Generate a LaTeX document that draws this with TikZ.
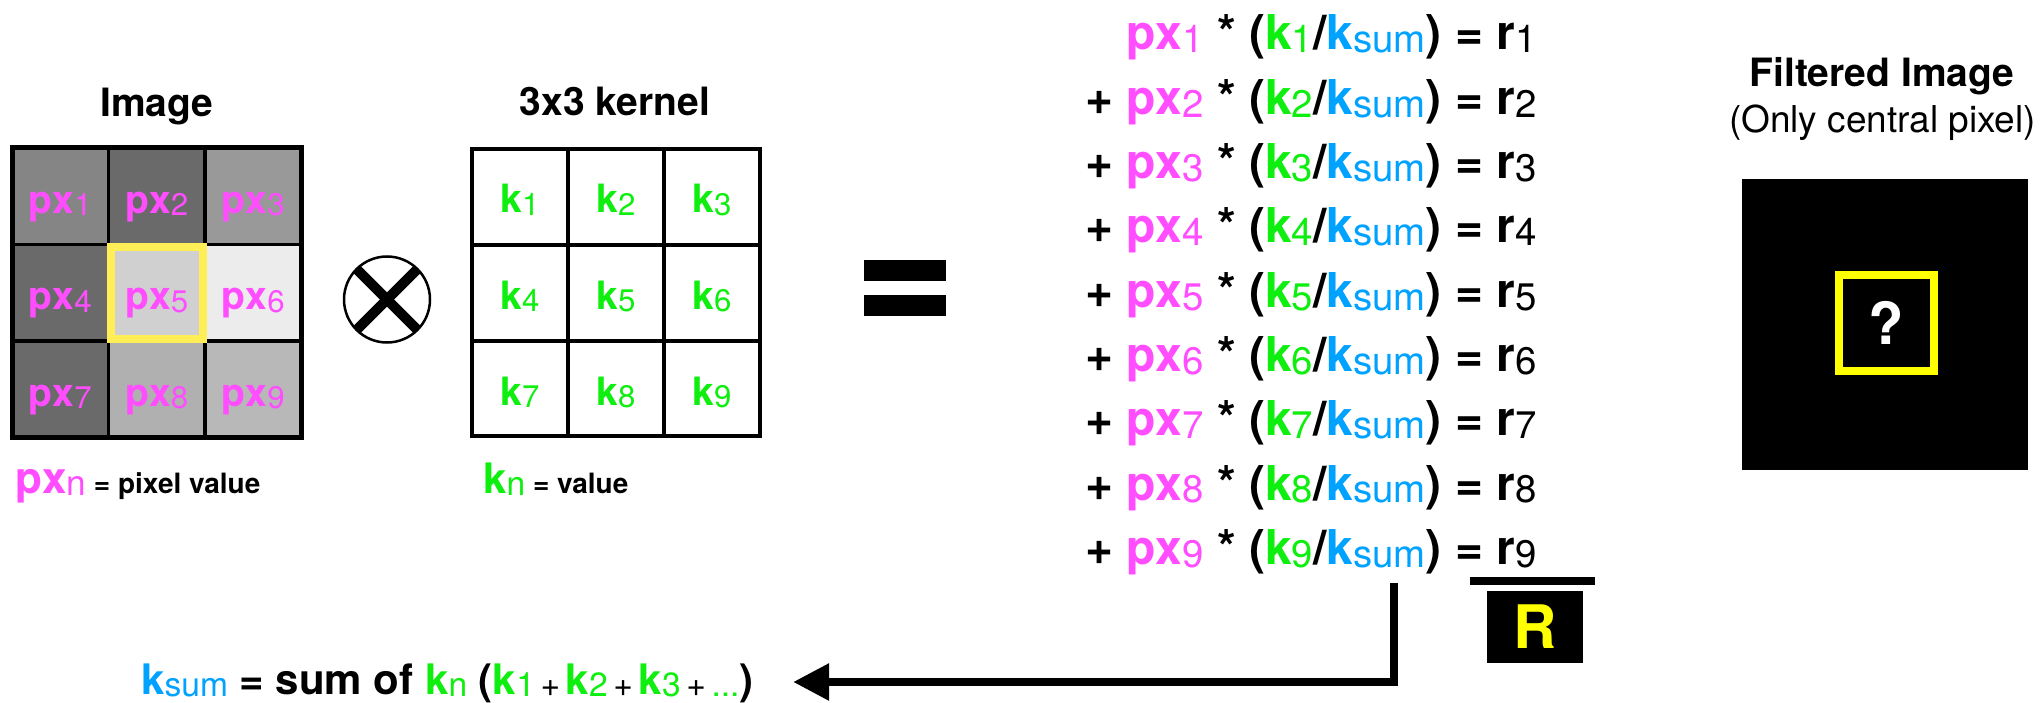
\documentclass[tikz,border=0pt]{standalone}
\usepackage{fontspec}
\setmainfont{TeX Gyre Heros}
\usepackage{xcolor}
\usepackage{graphicx}
\usepackage{tikz}
\usetikzlibrary{arrows.meta, positioning}

\definecolor{pxpink}{HTML}{FF4DFF}
\definecolor{kgreen}{HTML}{0FEF0F}
\definecolor{ksblue}{HTML}{00A2FF}
\definecolor{hlyellow}{HTML}{FFEE55}
\definecolor{ryellow}{HTML}{FFFF00}

\newcommand{\setfs}[1]{\fontsize{#1pt}{#1pt}\selectfont}
\newcommand{\lowsub}[1]{\raisebox{-0.06em}{\scalebox{0.8}{\mdseries #1}}}
\newcommand{\pxv}[1]{\textcolor{pxpink}{px\lowsub{#1}}}
\newcommand{\kv}[1]{\textcolor{kgreen}{k\lowsub{#1}}}
\newcommand{\ksum}{\textcolor{ksblue}{k\lowsub{sum}}}

\begin{document}
\begin{tikzpicture}[
  x=1pt, y=-1pt,
  lbl/.style={inner sep=0pt, anchor=base},
  title/.style={lbl, font=\setfs{39}\bfseries},
  cell/.style={lbl, font=\setfs{39}\bfseries},
  legend/.style={inner sep=0pt, anchor=base west, font=\bfseries},
  eqline/.style={inner sep=0pt, anchor=base west, font=\setfs{48}\bfseries},
  gridline/.style={line width=3.5pt},
  arr/.style={-{Triangle[length=36pt, width=35pt]}, line width=8.5pt, line join=miter}
]
\useasboundingbox (0,0) rectangle (2042,703);
\fill[white] (0,0) rectangle (2042,703);

% ---- Image (left) ----
\node[title] (imgtitle) at (157,117) {Image};
\foreach \n/\g in {1/133,2/106,3/153,4/106,5/208,6/236,7/106,8/176,9/184}{
  \pgfmathtruncatemacro{\cx}{mod(\n-1,3)}
  \pgfmathtruncatemacro{\ry}{(\n-1)/3}
  \definecolor{cellfill}{RGB}{\g,\g,\g}
  \fill[cellfill] (12+96.5*\cx,148+96.5*\ry) rectangle ++(96.5,96.5);
  \node[cell] (px\n) at (60.25+96.5*\cx,213.25+96.5*\ry) {\pxv{\n}};
}
\foreach \i in {1,2}{
  \draw[gridline] (12+96.5*\i,148) -- ++(0,289.5);
  \draw[gridline] (12,148+96.5*\i) -- ++(289.5,0);
}
\draw[line width=5pt] (12,148) rectangle (301.5,437.5);
\node[draw=hlyellow, line width=8pt, minimum size=92pt, inner sep=0pt] (focus) at (156.75,292.75) {};
\node[legend] (pxlegend) at (15,493) {\setfs{44}\pxv{n}\setfs{28} = pixel value};

% ---- Convolution sign ----
\node[circle, draw, line width=2.5pt, minimum size=86pt, inner sep=0pt] (otimes) at (387,299.5) {};
\draw[line width=10pt, shorten <=2pt, shorten >=2pt] (otimes.north west) -- (otimes.south east);
\draw[line width=10pt, shorten <=2pt, shorten >=2pt] (otimes.north east) -- (otimes.south west);

% ---- Kernel ----
\node[title] (kertitle) at (615,116) {3x3 kernel};
\foreach \n in {1,...,9}{
  \pgfmathtruncatemacro{\cx}{mod(\n-1,3)}
  \pgfmathtruncatemacro{\ry}{(\n-1)/3}
  \node[cell] (k\n) at (520+96*\cx,213+96*\ry) {\kv{\n}};
}
\foreach \i in {1,2}{
  \draw[line width=4pt] (472+96*\i,149) -- ++(0,287);
  \draw[line width=4pt] (472,149+96*\i) -- ++(288,0);
}
\draw[line width=4.5pt] (472,149) rectangle (760,436);
\node[legend] (klegend) at (483,493) {\setfs{42}\kv{n}\setfs{28} = value};

% ---- Equals ----
\fill (864,260) rectangle (946,281);
\fill (864,295) rectangle (946,316);

% ---- Weighted sum ----
\foreach \n in {1,...,9}
  \node[eqline] (eq\n) at (1085,50+64.3*\n-64.3)
    {{\ifnum\n=1 \phantom{+}\else +\fi}\ \pxv{\n} * (\kv{\n}/\ksum) = r\lowsub{\n}};

\draw[line width=8pt] (1470,581) -- (1595,581);
\node[fill=black, text=ryellow, minimum width=96pt, minimum height=72pt, inner sep=0pt,
      font=\setfs{60}\bfseries] (rbox) at (1535,627) {R};

% ---- k_sum definition ----
\node[legend, font=\setfs{42}\bfseries] (ksumdef) at (141,694)
  {\ksum{} = sum of \kv{n} (\kv{1}\lowsub{\,+\,}\kv{2}\lowsub{\,+\,}\kv{3}\lowsub{\,+\,}\textcolor{kgreen}{\lowsub{...}})};
\coordinate (tap) at (1394,583);
\coordinate (tip) at (793,682);
\draw[arr] (tap) |- (tip);

% ---- Filtered image ----
\node[title] (filtitle) at (1882,87) {Filtered Image};
\node[lbl, font=\setfs{37}] (filsub) at (1882.5,133) {(Only central pixel)};
\node[fill=black, minimum width=286pt, minimum height=291pt, inner sep=0pt] (filtered) at (1885,324.5) {};
\node[draw=ryellow, line width=8pt, minimum size=95pt, inner sep=0pt, text=white,
      font=\setfs{58}\bfseries] (central) at (1886.5,323) {?};

\end{tikzpicture}
\end{document}
